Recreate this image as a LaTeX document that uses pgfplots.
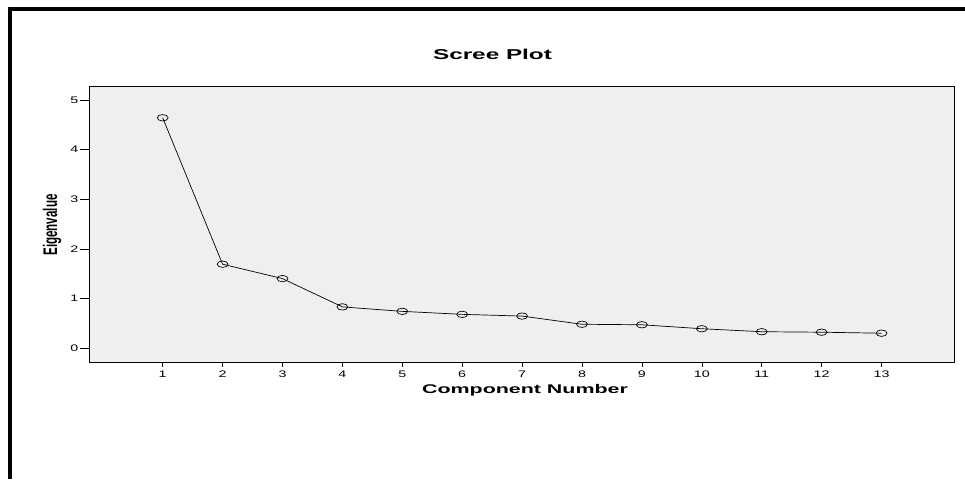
\documentclass[border=0pt]{standalone}
\usepackage{pgfplots}
\pgfplotsset{compat=1.18}
\usepackage{fontspec}
\setmainfont{Liberation Sans}
\definecolor{bgc}{RGB}{239,239,239}
\begin{document}
\begin{tikzpicture}
\useasboundingbox (0pt,0pt) rectangle (965pt,479pt);
\fill[white] (0pt,0pt) rectangle (965pt,479pt);
\fill[black] (8pt,468pt) rectangle (965pt,472pt);
\fill[black] (8pt,0pt) rectangle (12pt,472pt);
\begin{axis}[
  at={(89pt,117pt)}, anchor=south west,
  scale only axis, width=865pt, height=276pt,
  xmin=-0.23, xmax=14.21, ymin=-0.28, ymax=5.28,
  axis background/.style={fill=bgc},
  axis line style={line width=0.8pt},
  xtick={1,...,13}, ytick={0,...,5},
  tick align=outside,
  xtick pos=bottom, ytick pos=left,
  xtick style={black, line width=0.6pt, /pgfplots/major tick length=5pt},
  ytick style={black, line width=0.6pt, /pgfplots/major tick length=9pt},
  xticklabel={\scalebox{1.5}[1]{\pgfmathprintnumber[assume math mode=true]{\tick}}},
  yticklabel={\scalebox{1.5}[1]{\pgfmathprintnumber[assume math mode=true]{\tick}}},
  ticklabel style={font=\fontsize{9.5}{10}\selectfont},
  yticklabel style={xshift=-3pt},
  xticklabel style={yshift=-1pt},
]
\addplot[black, line width=0.7pt, mark=o, mark size=3.2pt, mark options={xscale=1.7, line width=0.7pt}]
coordinates {(1,4.64) (2,1.69) (3,1.40) (4,0.83) (5,0.74) (6,0.68) (7,0.645) (8,0.48) (9,0.47) (10,0.39) (11,0.33) (12,0.32) (13,0.30)};
\end{axis}
\node[anchor=base, inner sep=0pt] at (492.5pt,419pt) {\scalebox{1.7}[1]{\fontsize{14.3}{16}\selectfont\bfseries Scree Plot}};
\node[anchor=base, inner sep=0pt] at (525pt,86pt) {\scalebox{1.7}[1]{\fontsize{12.6}{14}\selectfont\bfseries Component Number}};
\node[inner sep=0pt] at (52pt,254pt) {\scalebox{1.7}[1]{\rotatebox{90}{\fontsize{11.6}{13}\selectfont\bfseries Eigenvalue}}};
\end{tikzpicture}
\end{document}
